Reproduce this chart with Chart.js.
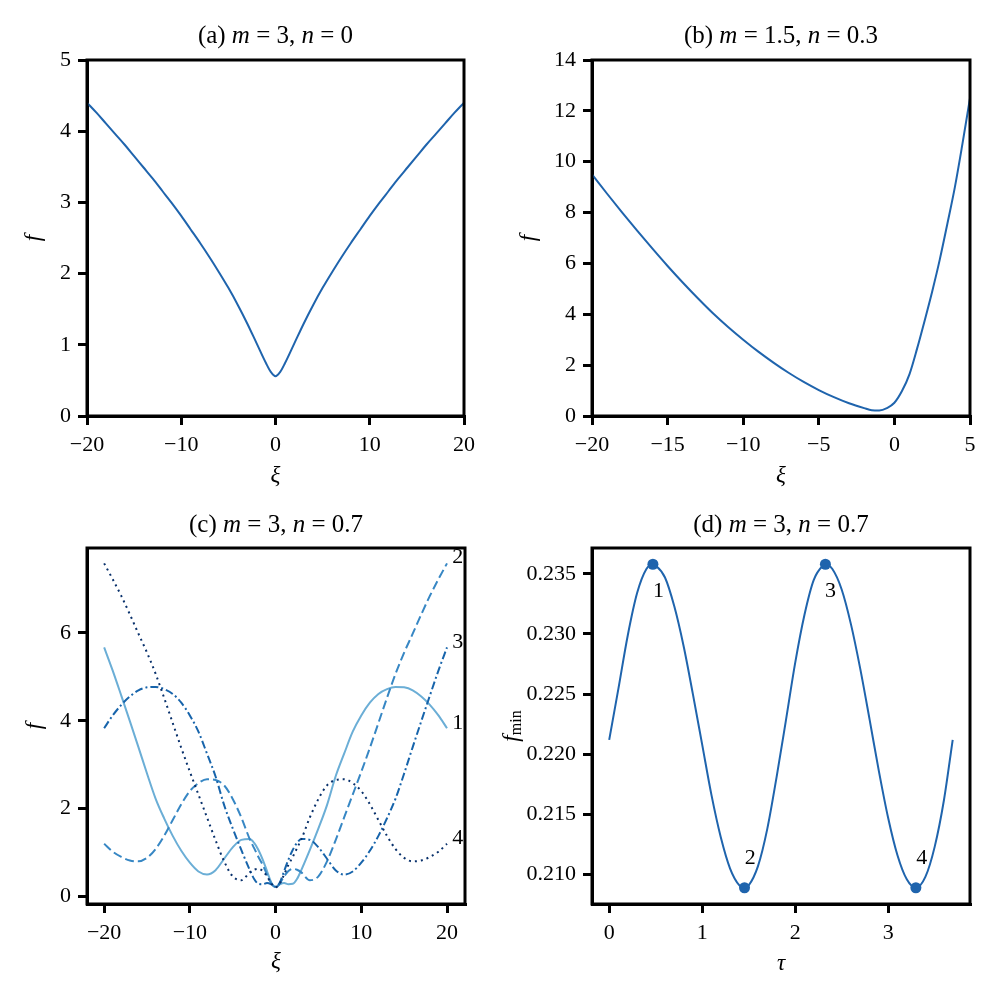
<!DOCTYPE html>
<html>
<head>
<meta charset="utf-8">
<script src="https://cdn.jsdelivr.net/npm/chart.js@4.4.0/dist/chart.umd.min.js"></script>
<style>
  html, body { margin: 0; padding: 0; background: #fff; }
  #wrap { position: relative; width: 1000px; height: 1000px; }
  canvas { position: absolute; }
</style>
</head>
<body>
<div id="wrap">
  <canvas id="panelA" width="500" height="500" style="left:0;top:0"></canvas>
  <canvas id="panelB" width="500" height="500" style="left:500px;top:0"></canvas>
  <canvas id="panelC" width="500" height="500" style="left:0;top:500px"></canvas>
  <canvas id="panelD" width="500" height="500" style="left:500px;top:500px"></canvas>
</div>
<script>
// Panel (a): m = 3, n = 0
const xiA = [-20,-19,-18,-17,-16,-15,-14,-13,-12,-11,-10,-9,-8,-7,-6,-5,-4,-3,-2,-1,-0.5,0,0.5,1,2,3,4,5,6,7,8,9,10,11,12,13,14,15,16,17,18,19,20];
const fA = [4.40,4.26,4.11,3.96,3.81,3.65,3.49,3.33,3.16,2.99,2.81,2.62,2.43,2.23,2.02,1.80,1.56,1.30,1.02,0.74,0.62,0.56,0.62,0.74,1.02,1.30,1.56,1.80,2.02,2.23,2.43,2.62,2.81,2.99,3.16,3.33,3.49,3.65,3.81,3.96,4.11,4.26,4.40];

// Panel (b): m = 1.5, n = 0.3
const xiB = [-20,-19,-18,-17,-16,-15,-14,-13,-12,-11,-10,-9,-8,-7,-6,-5,-4,-3,-2,-1.5,-1,-0.5,0,0.5,1,1.5,2,2.5,3,3.5,4,4.5,5];
const fB = [9.50,8.74,8.00,7.28,6.58,5.90,5.25,4.63,4.04,3.50,3.00,2.53,2.10,1.70,1.34,1.02,0.74,0.50,0.31,0.23,0.22,0.31,0.52,0.98,1.65,2.65,3.75,4.90,6.15,7.55,9.00,10.70,12.50];

// Panel (c): m = 3, n = 0.7, four snapshots
const xiC = [-20,-19,-18,-17,-16,-15,-14,-13,-12,-11,-10,-9,-8,-7,-6,-5,-4,-3,-2.5,-2,-1.5,-1,-0.5,0,0.5,1,1.5,2,2.5,3,4,5,6,7,8,9,10,11,12,13,14,15,16,17,18,19,20];
const fC1 = [5.67,5.14,4.57,3.99,3.40,2.80,2.23,1.78,1.38,1.04,0.77,0.57,0.50,0.60,0.86,1.12,1.29,1.31,1.22,1.06,0.84,0.58,0.32,0.22,0.28,0.31,0.28,0.29,0.40,0.60,1.06,1.55,2.08,2.73,3.25,3.75,4.12,4.41,4.61,4.72,4.77,4.76,4.69,4.55,4.36,4.12,3.83];
const fC2 = [1.20,1.02,0.90,0.82,0.80,0.88,1.08,1.38,1.74,2.10,2.40,2.58,2.67,2.65,2.53,2.22,1.80,1.30,1.10,0.90,0.72,0.50,0.30,0.21,0.30,0.46,0.58,0.63,0.61,0.55,0.37,0.46,0.80,1.28,1.80,2.32,2.84,3.38,3.95,4.52,5.07,5.55,5.98,6.42,6.84,7.22,7.58];
const fC3 = [3.83,4.12,4.36,4.55,4.69,4.76,4.77,4.72,4.61,4.41,4.12,3.75,3.25,2.73,2.08,1.55,1.06,0.60,0.40,0.29,0.28,0.31,0.28,0.22,0.32,0.58,0.84,1.06,1.22,1.31,1.29,1.12,0.86,0.60,0.50,0.57,0.77,1.04,1.38,1.78,2.23,2.80,3.40,3.99,4.57,5.14,5.67];
const fC4 = [7.58,7.22,6.84,6.42,5.98,5.55,5.07,4.52,3.95,3.38,2.84,2.32,1.80,1.28,0.80,0.46,0.37,0.55,0.61,0.63,0.58,0.46,0.30,0.21,0.30,0.50,0.72,0.90,1.10,1.30,1.80,2.22,2.53,2.65,2.67,2.58,2.40,2.10,1.74,1.38,1.08,0.88,0.80,0.82,0.90,1.02,1.20];
const labelsC = ['1', '2', '3', '4'];
const labelPosC = [[20.6, 3.95], [20.6, 7.72], [20.6, 5.79], [20.6, 1.33]];

// Panel (d): minimum of f over tau
const tauD = [0,0.1,0.2,0.3,0.4,0.47,0.5,0.6,0.7,0.8,0.9,1.0,1.1,1.2,1.3,1.4,1.455,1.5,1.6,1.7,1.8,1.9,2.0,2.1,2.2,2.3,2.325,2.4,2.5,2.6,2.7,2.8,2.9,3.0,3.1,3.2,3.298,3.4,3.5,3.6,3.694];
const fminD = [0.2212,0.2255,0.2299,0.2334,0.2354,0.2358,0.2357,0.2347,0.2323,0.2290,0.2250,0.2208,0.2166,0.2131,0.2105,0.2091,0.2089,0.2091,0.2107,0.2138,0.2181,0.2228,0.2276,0.2316,0.2345,0.2357,0.2358,0.2354,0.2337,0.2308,0.2271,0.2229,0.2186,0.2147,0.2116,0.2096,0.2089,0.2098,0.2123,0.2162,0.2212];
const tauMarks = [0.47, 1.455, 2.325, 3.298];
const fminMarks = [0.2358, 0.2089, 0.2358, 0.2089];
const labelsD = ['1', '2', '3', '4'];
const labelPosD = [[0.531, 0.23353], [1.517, 0.21134], [2.379, 0.23353], [3.36, 0.21134]];

// tick values
const xTicksA = [-20, -10, 0, 10, 20], yTicksA = [0, 1, 2, 3, 4, 5];
const xTicksB = [-20, -15, -10, -5, 0, 5], yTicksB = [0, 2, 4, 6, 8, 10, 12, 14];
const xTicksC = [-20, -10, 0, 10, 20], yTicksC = [0, 2, 4, 6];
const xTicksD = [0, 1, 2, 3], yTicksD = [0.210, 0.215, 0.220, 0.225, 0.230, 0.235];

const SERIF = '"Liberation Serif", "DejaVu Serif", serif';
const MAIN = '#1f64ad';

const pts = (xs, ys) => xs.map((x, i) => ({ x: x, y: ys[i] }));
const minus = s => String(s).replace('-', '\u2212');

// rich text: [text, italic, size, dy]
function fontOf(p) {
    return (p[1] ? 'italic ' : '') + (p[2] || 25) + 'px ' + SERIF;
}
function drawRich(ctx, parts, cx, cy) {
    let total = 0;
    const widths = parts.map(p => {
        ctx.font = fontOf(p);
        const w = ctx.measureText(p[0]).width;
        total += w;
        return w;
    });
    let x = cx - total / 2;
    ctx.textAlign = 'left';
    parts.forEach((p, i) => {
        ctx.font = fontOf(p);
        ctx.fillText(p[0], x, cy + (p[3] || 0));
        x += widths[i];
    });
}

function titleParts(tag, m, n) {
    return [['(' + tag + ') ', 0], ['m', 1], [' = ' + m + ', ', 0], ['n', 1], [' = ' + n, 0]];
}

// per panel decorations (titles, axis labels, notes)
const DECOR = {
    panelA: {
        title: titleParts('a', '3', '0'), titleY: 43,
        xlab: [['\u03be', 1, 23]], xlabY: 482,
        ylab: [['f', 1, 23]], ylabX: 34
    },
    panelB: {
        title: titleParts('b', '1.5', '0.3'), titleY: 43,
        xlab: [['\u03be', 1, 23]], xlabY: 482,
        ylab: [['f', 1, 23]], ylabX: 29
    },
    panelC: {
        title: titleParts('c', '3', '0.7'), titleY: 32,
        xlab: [['\u03be', 1, 23]], xlabY: 468,
        ylab: [['f', 1, 23]], ylabX: 35,
        notes: labelsC.map((t, i) => ({ text: t, x: labelPosC[i][0], y: labelPosC[i][1], align: 'left' }))
    },
    panelD: {
        title: titleParts('d', '3', '0.7'), titleY: 32,
        xlab: [['\u03c4', 1, 23]], xlabY: 470,
        ylab: [['f', 1, 23], ['min', 0, 16, 5]], ylabX: 12,
        notes: labelsD.map((t, i) => ({ text: t, x: labelPosD[i][0], y: labelPosD[i][1], align: 'center' }))
    }
};

const decor = {
    id: 'decor',
    afterDraw(chart) {
        const d = DECOR[chart.canvas.id];
        const ctx = chart.ctx;
        const a = chart.chartArea;
        ctx.save();
        ctx.strokeStyle = '#000';
        ctx.lineWidth = 3;
        ctx.strokeRect(a.left, a.top, a.right - a.left, a.bottom - a.top);
        ctx.fillStyle = '#000';
        ctx.textBaseline = 'alphabetic';
        const mid = (a.left + a.right) / 2;
        drawRich(ctx, d.title, mid, d.titleY);
        drawRich(ctx, d.xlab, mid, d.xlabY);
        ctx.save();
        ctx.translate(d.ylabX, (a.top + a.bottom) / 2);
        ctx.rotate(-Math.PI / 2);
        ctx.textBaseline = 'middle';
        drawRich(ctx, d.ylab, 0, 0);
        ctx.restore();
        if (d.notes) {
            ctx.font = '22px ' + SERIF;
            ctx.textBaseline = 'middle';
            d.notes.forEach(n => {
                ctx.textAlign = n.align;
                ctx.fillText(n.text, chart.scales.x.getPixelForValue(n.x), chart.scales.y.getPixelForValue(n.y));
            });
        }
        ctx.restore();
    }
};

function axis(min, max, ticks, fmt, fitFn) {
    return {
        type: 'linear',
        min: min,
        max: max,
        afterBuildTicks: s => { s.ticks = ticks.map(v => ({ value: v })); },
        afterFit: fitFn,
        grid: { display: true, drawOnChartArea: false, drawTicks: true, tickLength: 9, lineWidth: 3, tickWidth: 3, tickColor: '#000' },
        border: { display: true, color: '#000', width: 3 },
        ticks: {
            color: '#000',
            font: { family: SERIF, size: 22 },
            padding: 7,
            maxRotation: 0,
            autoSkip: false,
            callback: v => fmt(v)
        }
    };
}

function makePanel(id, area, xr, yr, xTicks, yTicks, yFmt, datasets) {
    new Chart(document.getElementById(id), {
        type: 'line',
        data: { datasets: datasets },
        options: {
            responsive: false,
            animation: false,
            devicePixelRatio: 1,
            layout: { padding: { left: 0, top: area.top, right: 500 - area.right, bottom: 0 } },
            plugins: { legend: { display: false }, tooltip: { enabled: false } },
            elements: { point: { radius: 0 } },
            scales: {
                x: axis(xr[0], xr[1], xTicks, v => minus(v), s => { s.height = 500 - area.bottom; }),
                y: axis(yr[0], yr[1], yTicks, yFmt, s => { s.width = area.left; })
            }
        },
        plugins: [decor]
    });
}

function curve(xs, ys, color, dash) {
    return {
        data: pts(xs, ys),
        borderColor: color,
        borderWidth: 2,
        borderDash: dash || [],
        pointRadius: 0,
        cubicInterpolationMode: 'monotone',
        fill: false
    };
}

makePanel('panelA', { left: 87, top: 60, right: 464, bottom: 416 }, [-20, 20], [0, 5],
    xTicksA, yTicksA, v => String(v), [curve(xiA, fA, MAIN)]);

makePanel('panelB', { left: 92, top: 60, right: 470, bottom: 416 }, [-20, 5], [0, 14],
    xTicksB, yTicksB, v => String(v), [curve(xiB, fB, MAIN)]);

makePanel('panelC', { left: 87, top: 48, right: 465, bottom: 404 }, [-22, 22.1], [-0.17, 7.93],
    xTicksC, yTicksC, v => String(v), [
        curve(xiC, fC4, '#08306b', [2, 4]),
        curve(xiC, fC3, '#1764ab', [8, 3, 2, 3]),
        curve(xiC, fC2, '#3787c4', [9, 4]),
        curve(xiC, fC1, '#6baed6')
    ]);

makePanel('panelD', { left: 92, top: 48, right: 470, bottom: 404 }, [-0.185, 3.88], [0.20755, 0.23715],
    xTicksD, yTicksD, v => v.toFixed(3), [
        curve(tauD, fminD, MAIN),
        {
            data: pts(tauMarks, fminMarks),
            showLine: false,
            pointRadius: 5.5,
            pointBackgroundColor: MAIN,
            pointBorderWidth: 0,
            borderColor: MAIN
        }
    ]);
</script>
</body>
</html>
